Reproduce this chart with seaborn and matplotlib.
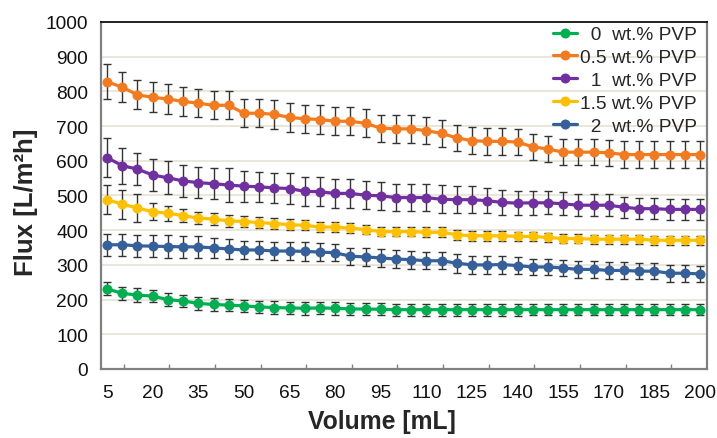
import numpy as np
import pandas as pd
import matplotlib
matplotlib.use("Agg")
import matplotlib.pyplot as plt
import seaborn as sns

# ---------------- data ----------------
volume = list(range(5, 205, 5))  # mL

series_labels = ["  0  wt.% PVP", "0.5 wt.% PVP", "  1  wt.% PVP", "1.5 wt.% PVP", "  2  wt.% PVP"]
series_colors = ["#00B050", "#F47A1F", "#7030A0", "#FFC000", "#35609A"]

flux_0 = [231, 218, 213, 210, 200, 196, 189, 186, 184, 182, 179, 177, 176, 175,
          176, 175, 173, 173, 172, 171, 171, 171, 171, 171, 171, 171, 171, 171,
          171, 171, 171, 171, 171, 171, 171, 171, 171, 171, 171, 171]
err_0 = [19, 19, 19, 18, 19, 18, 18, 18, 18, 18, 18, 18, 18, 18,
         18, 18, 17, 17, 17, 17, 17, 17, 17, 17, 17, 17, 17, 17,
         16, 16, 16, 16, 16, 16, 16, 16, 16, 16, 16, 16]

flux_05 = [828, 812, 790, 783, 778, 771, 766, 760, 760, 737, 737, 734, 725, 721,
           719, 714, 714, 708, 694, 692, 692, 687, 679, 666, 658, 656, 656, 654,
           640, 634, 625, 625, 625, 623, 618, 618, 618, 618, 618, 618]
err_05 = [50, 43, 42, 43, 43, 43, 40, 40, 40, 41, 41, 41, 42, 41,
          41, 40, 40, 40, 39, 40, 40, 40, 39, 38, 39, 38, 39, 38,
          38, 38, 38, 38, 38, 38, 38, 38, 38, 38, 38, 38]

flux_1 = [609, 586, 576, 559, 551, 542, 537, 534, 530, 527, 525, 522, 520, 512,
          511, 506, 506, 501, 499, 494, 494, 494, 489, 488, 488, 485, 480, 478,
          479, 479, 476, 472, 472, 472, 466, 462, 462, 460, 460, 460]
err_1 = [56, 52, 47, 47, 48, 46, 45, 45, 48, 45, 44, 44, 44, 42,
         42, 41, 41, 40, 40, 40, 40, 40, 40, 39, 39, 36, 35, 35,
         34, 33, 33, 32, 32, 32, 31, 30, 30, 30, 30, 30]

flux_15 = [488, 475, 464, 453, 449, 442, 435, 432, 427, 425, 422, 419, 416, 414,
           409, 409, 406, 402, 396, 396, 396, 394, 394, 387, 384, 384, 384, 382,
           382, 379, 376, 376, 374, 374, 374, 374, 371, 371, 371, 371]
err_15 = [41, 42, 40, 25, 22, 18, 18, 18, 17, 17, 16, 15, 15, 14,
          14, 14, 14, 14, 14, 14, 14, 14, 14, 14, 14, 14, 14, 14,
          13, 13, 13, 13, 13, 13, 13, 13, 13, 13, 13, 13]

flux_2 = [358, 358, 355, 354, 353, 352, 352, 349, 346, 343, 343, 340, 340, 339,
          337, 335, 325, 323, 320, 317, 315, 312, 312, 305, 300, 300, 301, 298,
          294, 294, 291, 287, 287, 284, 284, 282, 282, 276, 276, 274]
err_2 = [32, 31, 31, 32, 32, 31, 31, 29, 30, 27, 27, 27, 27, 27,
         25, 24, 25, 25, 27, 26, 26, 24, 25, 27, 27, 26, 26, 24,
         24, 24, 24, 24, 24, 24, 24, 24, 24, 24, 24, 24]

y_ticks = list(range(0, 1100, 100))
x_ticks = list(range(5, 205, 15))

all_flux = [flux_0, flux_05, flux_1, flux_15, flux_2]
all_err = [err_0, err_05, err_1, err_15, err_2]

df = pd.DataFrame({
    "Volume": np.tile(volume, len(series_labels)),
    "Flux": np.concatenate(all_flux),
    "err": np.concatenate(all_err),
    "Series": np.repeat(series_labels, len(volume)),
})

# ---------------- style ----------------
sns.set_style("white")
plt.rcParams["font.family"] = ["Liberation Sans", "DejaVu Sans"]

W, H = 717, 439
fig = plt.figure(figsize=(W / 100, H / 100), dpi=100)
ax = fig.add_axes([101 / W, 1 - 370 / H, (707 - 101) / W, (370 - 23) / H])

# error bars (behind lines)
for lab, col in zip(series_labels, series_colors):
    sub = df[df["Series"] == lab]
    ax.errorbar(sub["Volume"], sub["Flux"], yerr=sub["err"], fmt="none",
                ecolor="#333333", elinewidth=1.0, capsize=2.8, capthick=1.0, zorder=2)

sns.lineplot(data=df, x="Volume", y="Flux", hue="Series", hue_order=series_labels,
             palette=series_colors, marker="o", markersize=7.2, markeredgewidth=0,
             linewidth=2.3, errorbar=None, sort=False, ax=ax, zorder=3)

ax.set_xlim(3.13, 202.3)
ax.set_ylim(0, 1000)

# y ticks
ax.set_yticks(y_ticks)
ax.set_yticks(list(range(50, 1000, 100)), minor=True)
ax.tick_params(axis="y", which="major", direction="inout", length=9.5, width=1.0,
               color="#808080", labelsize=13.8, pad=4.5, labelcolor="#111111")
ax.tick_params(axis="y", which="minor", direction="in", length=4, width=1.0, color="#808080")

# x ticks: labels at data positions, tick marks offset (category style)
ax.set_xticks(x_ticks)
ax.set_xticklabels([str(v) for v in x_ticks])
ax.set_xticks([v - 2 for v in x_ticks], minor=True)
ax.tick_params(axis="x", which="major", length=0, labelsize=13.8, pad=11, labelcolor="#111111")
ax.tick_params(axis="x", which="minor", direction="out", length=4.5, width=1.0, color="#808080")
sec = ax.secondary_xaxis("bottom")
sec.set_xticks([v + 5.5 for v in x_ticks[:-1]])
sec.tick_params(axis="x", direction="in", length=3.5, width=1.0, color="#808080", labelbottom=False)
sec.spines["bottom"].set_visible(False)

# grid
ax.grid(axis="y", which="major", color="#E6E2D5", linewidth=1.2, zorder=0)
ax.grid(axis="x", visible=False)
ax.set_axisbelow(True)

# spines
for s in ["left", "bottom", "right"]:
    ax.spines[s].set_color("#808080")
    ax.spines[s].set_linewidth(1.6)
ax.spines["top"].set_color("black")
ax.spines["top"].set_linewidth(1.2)

# labels
ax.set_xlabel("Volume [mL]", fontsize=17.8, fontweight="bold")
ax.set_ylabel("Flux [L/m²h]", fontsize=18.5, fontweight="bold")
ax.xaxis.set_label_coords((382 - 101) / 606, -(410 - 370) / 347)
ax.yaxis.set_label_coords((38 - 101) / 606, (370 - 202) / 347)

# legend
handles, labels = ax.get_legend_handles_labels()
leg = ax.legend(handles, labels, loc="upper right",
                bbox_to_anchor=(697 / W, 1 - 27 / H), bbox_transform=fig.transFigure,
                frameon=False, fontsize=13.8, handlelength=1.25, handletextpad=0.15,
                labelspacing=0.28, borderpad=0, borderaxespad=0)

fig.savefig("out.png", dpi=100)
